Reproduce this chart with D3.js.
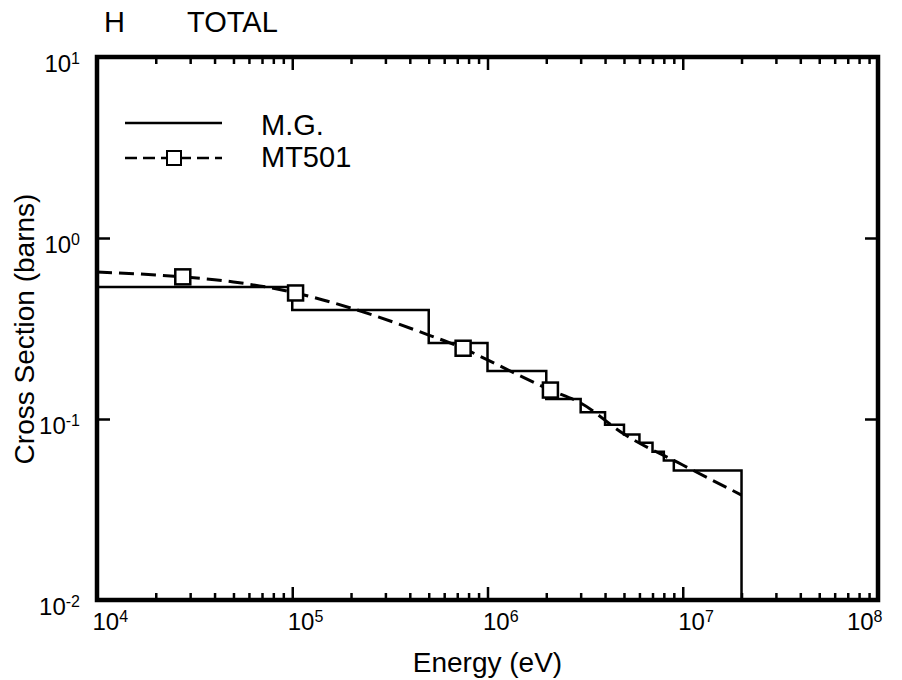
<!DOCTYPE html>
<html>
<head>
<meta charset="utf-8">
<script src="https://cdn.jsdelivr.net/npm/d3@7"></script>
<style>
  body { margin: 0; background: #fff; }
  text { font-family: "Liberation Sans", Arial, Helvetica, sans-serif; fill: #000; }
</style>
</head>
<body>
<div id="chart"></div>
<script>
// group boundaries (eV) and multigroup values (barns)
var mgEdges  = [1e4, 1e5, 5e5, 1e6, 2e6, 3e6, 4e6, 5e6, 6e6, 7e6, 8e6, 9e6, 2e7];
var mgValues = [0.536, 0.40, 0.263, 0.184, 0.129, 0.109, 0.093, 0.082, 0.074, 0.066, 0.059, 0.052];

// MT501 curve points
var mtEnergy = [1e4, 2e4, 2.75e4, 5e4, 1.04e5, 2e5, 5e5, 7.5e5, 1e6, 2.1e6, 3e6, 5e6, 1e7, 2e7];
var mtValues = [0.648, 0.625, 0.61, 0.572, 0.497, 0.41, 0.291, 0.246, 0.212, 0.1445, 0.1225, 0.0826, 0.0557, 0.038];

// MT501 marker positions
var markEnergy = [2.75e4, 1.04e5, 7.5e5, 2.1e6];
var markValues = [0.61, 0.497, 0.246, 0.1445];

var xMajor = [1e4, 1e5, 1e6, 1e7, 1e8];
var yMajor = [1e-2, 1e-1, 1e0, 1e1];

var w = 902, h = 680,
    p = {"top": 57, "right": 24, "left": 97, "bot": 80};

var svg = d3.select("#chart").append("svg")
  .attr("width", w)
  .attr("height", h)

var x = d3.scaleLog()
  .domain([1e4, 1e8])
  .range([p.left, w - p.right])

var y = d3.scaleLog()
  .domain([1e-2, 1e1])
  .range([h - p.bot, p.top])

// minor x ticks: 2..9 in each decade
var xMinor = [];
xMajor.slice(0, -1).forEach(function(d){
  for (var k = 2; k <= 9; k++) xMinor.push(d * k);
})

function expLabel(sel, d){
  var e = Math.round(Math.log10(d));
  sel.text(null);
  sel.append("tspan").text("10");
  sel.append("tspan").attr("dy", "-0.5em").style("font-size", "16px").text(e);
}

// bottom axis
svg.append("g").attr("transform", "translate(0," + (h - p.bot) + ")")
  .call(d3.axisBottom(x).tickValues(xMinor).tickSize(-7).tickFormat(""));
var gb = svg.append("g").attr("transform", "translate(0," + (h - p.bot) + ")");
gb.call(d3.axisBottom(x).tickValues(xMajor).tickSize(-13).tickPadding(13).tickFormat(""));
gb.selectAll(".tick text").each(function(d){ d3.select(this).call(expLabel, d) })
  .style("font-size", "24px")
  .style("text-anchor", function(d){ return d == 1e8 ? "end" : "start" })
  .attr("dx", function(d){ return d == 1e8 ? 4 : -5 });

// top axis
svg.append("g").attr("transform", "translate(0," + p.top + ")")
  .call(d3.axisTop(x).tickValues(xMinor).tickSize(-7).tickFormat(""));
svg.append("g").attr("transform", "translate(0," + p.top + ")")
  .call(d3.axisTop(x).tickValues(xMajor).tickSize(-13).tickFormat(""));

// left axis
var gl = svg.append("g").attr("transform", "translate(" + p.left + ",0)");
gl.call(d3.axisLeft(y).tickValues(yMajor).tickSize(-13).tickPadding(17).tickFormat(""));
gl.selectAll(".tick text").each(function(d){ d3.select(this).call(expLabel, d) })
  .attr("dy", "0.6em")
  .style("font-size", "24px");

// right axis
svg.append("g").attr("transform", "translate(" + (w - p.right) + ",0)")
  .call(d3.axisRight(y).tickValues(yMajor).tickSize(-13).tickFormat(""));

svg.selectAll(".domain").remove();
svg.selectAll(".tick line").attr("stroke", "#000").attr("stroke-width", 2.5);

// frame
svg.append("rect")
  .attr("x", p.left)
  .attr("y", p.top)
  .attr("width", w - p.left - p.right)
  .attr("height", h - p.top - p.bot)
  .attr("fill", "none")
  .attr("stroke", "#000")
  .attr("stroke-width", 4.5)

// multigroup step line
var mgPts = mgValues.map(function(v, i){ return [mgEdges[i], v] });
mgPts.push([mgEdges[mgEdges.length - 1], mgValues[mgValues.length - 1]]);
mgPts.push([mgEdges[mgEdges.length - 1], 1e-2]);

var stepLine = d3.line()
  .x(function(d){ return x(d[0]) })
  .y(function(d){ return y(d[1]) })
  .curve(d3.curveStepAfter)

svg.append("path")
  .datum(mgPts)
  .attr("d", stepLine)
  .attr("fill", "none")
  .attr("stroke", "#000")
  .attr("stroke-width", 2.5)

// MT501 dashed curve
var mtLine = d3.line()
  .x(function(d, i){ return x(mtEnergy[i]) })
  .y(function(d){ return y(d) })
  .curve(d3.curveMonotoneX)

svg.append("path")
  .datum(mtValues)
  .attr("d", mtLine)
  .attr("fill", "none")
  .attr("stroke", "#000")
  .attr("stroke-width", 3)
  .attr("stroke-dasharray", "15,7")

var ms = 15;
svg.selectAll(".mark")
  .data(markValues)
  .enter()
    .append("rect")
      .attr("class", "mark")
      .attr("x", function(d, i){ return x(markEnergy[i]) - ms / 2 })
      .attr("y", function(d){ return y(d) - ms / 2 })
      .attr("width", ms)
      .attr("height", ms)
      .attr("fill", "#fff")
      .attr("stroke", "#000")
      .attr("stroke-width", 2.5)

// legend
var lg = svg.append("g");
lg.append("line")
  .attr("x1", 125).attr("x2", 222).attr("y1", 123).attr("y2", 123)
  .attr("stroke", "#000").attr("stroke-width", 2.5)
lg.append("line")
  .attr("x1", 125).attr("x2", 222).attr("y1", 158).attr("y2", 158)
  .attr("stroke", "#000").attr("stroke-width", 2.5)
  .attr("stroke-dasharray", "12,6")
lg.append("rect")
  .attr("x", 174 - 7).attr("y", 158 - 7).attr("width", 14).attr("height", 14)
  .attr("fill", "#fff").attr("stroke", "#000").attr("stroke-width", 2)
lg.append("text").attr("x", 261).attr("y", 135).style("font-size", "29px").text("M.G.")
lg.append("text").attr("x", 261).attr("y", 167).style("font-size", "29px").text("MT501")

// titles
svg.append("text").attr("x", 104).attr("y", 32).style("font-size", "29px").text("H")
svg.append("text").attr("x", 187).attr("y", 32).style("font-size", "29px").text("TOTAL")

svg.append("text")
  .style("text-anchor", "middle")
  .style("font-size", "28px")
  .attr("x", (p.left + w - p.right) / 2)
  .attr("y", 672)
  .text("Energy (eV)")

svg.append("text")
  .style("text-anchor", "middle")
  .style("font-size", "28px")
  .attr("transform", "translate(34," + 329 + ") rotate(-90)")
  .text("Cross Section (barns)")
</script>
</body>
</html>
